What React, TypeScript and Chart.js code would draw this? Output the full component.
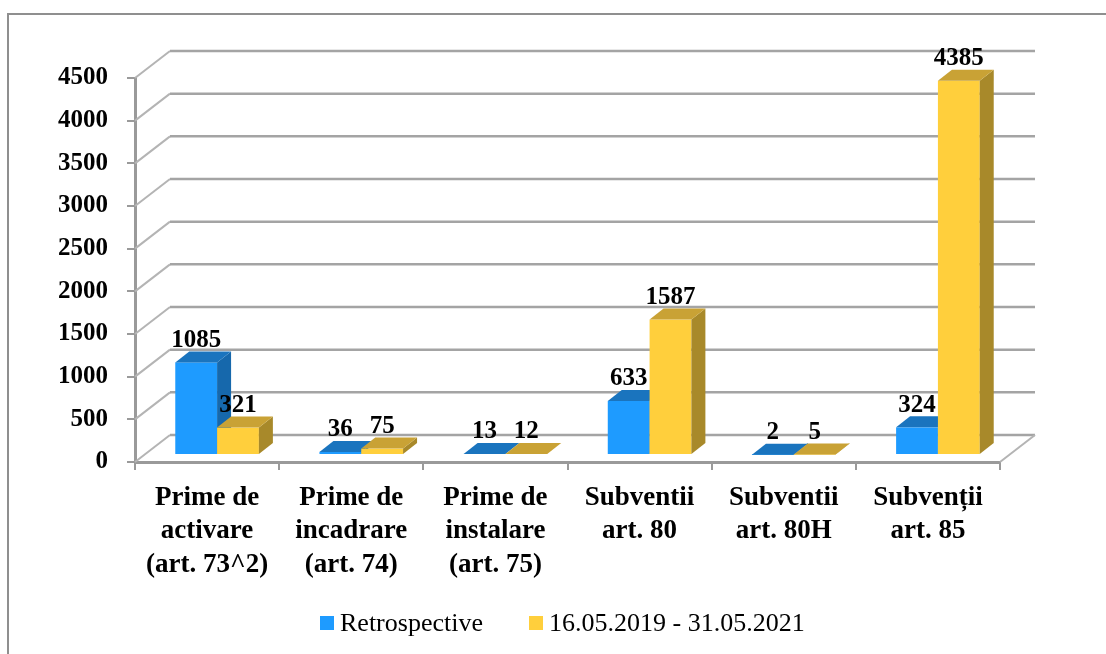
import React, { useEffect, useRef } from "react";
import { Chart, registerables } from "chart.js";

Chart.register(...registerables);

const categories: string[][] = [
  ["Prime de", "activare", "(art. 73^2)"],
  ["Prime de", "incadrare", "(art. 74)"],
  ["Prime de", "instalare", "(art. 75)"],
  ["Subventii", "art. 80"],
  ["Subventii", "art. 80H"],
  ["Subvenții", "art. 85"],
];
const seriesNames = ["Retrospective", "16.05.2019 - 31.05.2021"];
const retrospective = [1085, 36, 13, 633, 2, 324];
const period = [321, 75, 12, 1587, 5, 4385];
const yMin = 0;
const yMax = 4500;
const yStep = 500;

const FONT = "'Liberation Serif', 'Times New Roman', serif";

const palette = [
  { front: "#1E9BFF", top: "#1A74BE", side: "#1668AC" },
  { front: "#FFCF3C", top: "#C9A235", side: "#A8892A" },
];

const WALL_DX = 35;
const WALL_DY = -27;
const OFF_DX = 10;
const OFF_DY = -7;
const DEPTH_DX = 14;
const DEPTH_DY = -11;

const threeD = {
  id: "threeD",
  beforeDraw(chart: any) {
    const { ctx } = chart;
    ctx.save();
    ctx.strokeStyle = "#8f8f8f";
    ctx.lineWidth = 2;
    ctx.beginPath();
    ctx.moveTo(8, 660);
    ctx.lineTo(8, 14);
    ctx.lineTo(1110, 14);
    ctx.stroke();
    ctx.restore();
  },
  beforeDatasetsDraw(chart: any) {
    const { ctx, chartArea, scales } = chart;
    const y = scales.y;
    const L = chartArea.left;
    const R = chartArea.right;
    const B = chartArea.bottom;
    ctx.save();
    ctx.lineCap = "butt";
    for (const t of y.ticks) {
      const py = y.getPixelForValue(t.value);
      ctx.strokeStyle = "#b4b4b4";
      ctx.lineWidth = 2;
      ctx.beginPath();
      ctx.moveTo(L, py);
      ctx.lineTo(L + WALL_DX, py + WALL_DY);
      ctx.stroke();
      ctx.strokeStyle = "#a4a4a4";
      ctx.lineWidth = 2.5;
      ctx.beginPath();
      ctx.moveTo(L + WALL_DX, py + WALL_DY);
      ctx.lineTo(R + WALL_DX, py + WALL_DY);
      ctx.stroke();
    }
    ctx.strokeStyle = "#b4b4b4";
    ctx.lineWidth = 2;
    ctx.beginPath();
    ctx.moveTo(R, B);
    ctx.lineTo(R + WALL_DX, B + WALL_DY);
    ctx.stroke();
    ctx.restore();
  },
  afterDatasetsDraw(chart: any) {
    const { ctx } = chart;
    const metas = [chart.getDatasetMeta(0), chart.getDatasetMeta(1)];
    ctx.save();
    const n = categories.length;
    for (let i = 0; i < n; i++) {
      for (let d = 0; d < 2; d++) {
        const el = metas[d].data[i];
        const { x, y, base, width } = el.getProps(["x", "y", "base", "width"], true);
        const l = x - width / 2 + OFF_DX;
        const r = x + width / 2 + OFF_DX;
        const t = y + OFF_DY;
        const b = base + OFF_DY;
        const c = palette[d];
        ctx.fillStyle = c.front;
        ctx.fillRect(l, t, r - l, b - t);
        ctx.fillStyle = c.side;
        ctx.beginPath();
        ctx.moveTo(r, t);
        ctx.lineTo(r + DEPTH_DX, t + DEPTH_DY);
        ctx.lineTo(r + DEPTH_DX, b + DEPTH_DY);
        ctx.lineTo(r, b);
        ctx.closePath();
        ctx.fill();
        ctx.fillStyle = c.top;
        ctx.beginPath();
        ctx.moveTo(l, t);
        ctx.lineTo(r, t);
        ctx.lineTo(r + DEPTH_DX, t + DEPTH_DY);
        ctx.lineTo(l + DEPTH_DX, t + DEPTH_DY);
        ctx.closePath();
        ctx.fill();
      }
    }
    ctx.fillStyle = "#000";
    ctx.font = `bold 25px ${FONT}`;
    ctx.textAlign = "center";
    ctx.textBaseline = "middle";
    const data = [retrospective, period];
    for (let d = 0; d < 2; d++) {
      for (let i = 0; i < n; i++) {
        const el = metas[d].data[i];
        const { x, y } = el.getProps(["x", "y"], true);
        ctx.fillText(String(data[d][i]), x + OFF_DX, y + OFF_DY - 22);
      }
    }
    ctx.restore();
  },
};

export default function App() {
  const ref = useRef<HTMLCanvasElement | null>(null);
  useEffect(() => {
    if (!ref.current) return;
    const chart = new Chart(ref.current, {
      type: "bar",
      data: {
        labels: categories,
        datasets: [
          {
            label: seriesNames[0],
            data: retrospective,
            backgroundColor: "rgba(0,0,0,0)",
            borderWidth: 0,
            barPercentage: 1,
            categoryPercentage: 0.58,
          },
          {
            label: seriesNames[1],
            data: period,
            backgroundColor: "rgba(0,0,0,0)",
            borderWidth: 0,
            barPercentage: 1,
            categoryPercentage: 0.58,
          },
        ],
      },
      options: {
        responsive: false,
        animation: false,
        devicePixelRatio: 1,
        layout: { padding: { left: 0, top: 78, right: 106, bottom: 0 } },
        plugins: {
          legend: { display: false },
          tooltip: { enabled: false },
        },
        scales: {
          x: {
            afterFit: (s: any) => {
              s.height = 192;
            },
            grid: {
              drawOnChartArea: false,
              drawTicks: true,
              tickLength: 8,
              color: "#9a9a9a",
              lineWidth: 2,
            },
            border: { display: true, color: "#9a9a9a", width: 3 },
            ticks: {
              autoSkip: false,
              maxRotation: 0,
              minRotation: 0,
              padding: 11,
              color: "#000",
              font: { family: FONT, size: 27, weight: "bold", lineHeight: 1.24 },
            },
          },
          y: {
            min: yMin,
            max: yMax,
            afterFit: (s: any) => {
              s.width = 135;
            },
            grid: {
              drawOnChartArea: false,
              drawTicks: true,
              tickLength: 8,
              color: "#9a9a9a",
              lineWidth: 2,
            },
            border: { display: true, color: "#9a9a9a", width: 3 },
            ticks: {
              stepSize: yStep,
              padding: 19,
              color: "#000",
              font: { family: FONT, size: 25, weight: "bold" },
              callback: (v: any) => String(v),
            },
          },
        },
      },
      plugins: [threeD],
    });
    return () => chart.destroy();
  }, []);

  const legendItem = (i: number, width: number) => (
    <div style={{ display: "flex", alignItems: "center", width }}>
      <span
        style={{
          display: "inline-block",
          width: 14,
          height: 14,
          background: palette[i].front,
          marginRight: 6,
        }}
      />
      <span style={{ fontFamily: FONT, fontSize: 26, color: "#000", whiteSpace: "nowrap" }}>
        {seriesNames[i]}
      </span>
    </div>
  );

  return (
    <div style={{ position: "fixed", left: 0, top: 0, width: 1106, height: 654, background: "#fff" }}>
      <canvas ref={ref} width={1106} height={654} style={{ position: "absolute", left: 0, top: 0 }} />
      <div
        style={{
          position: "absolute",
          left: 320,
          top: 606,
          height: 34,
          display: "flex",
          alignItems: "center",
        }}
      >
        {legendItem(0, 209)}
        {legendItem(1, 300)}
      </div>
    </div>
  );
}
